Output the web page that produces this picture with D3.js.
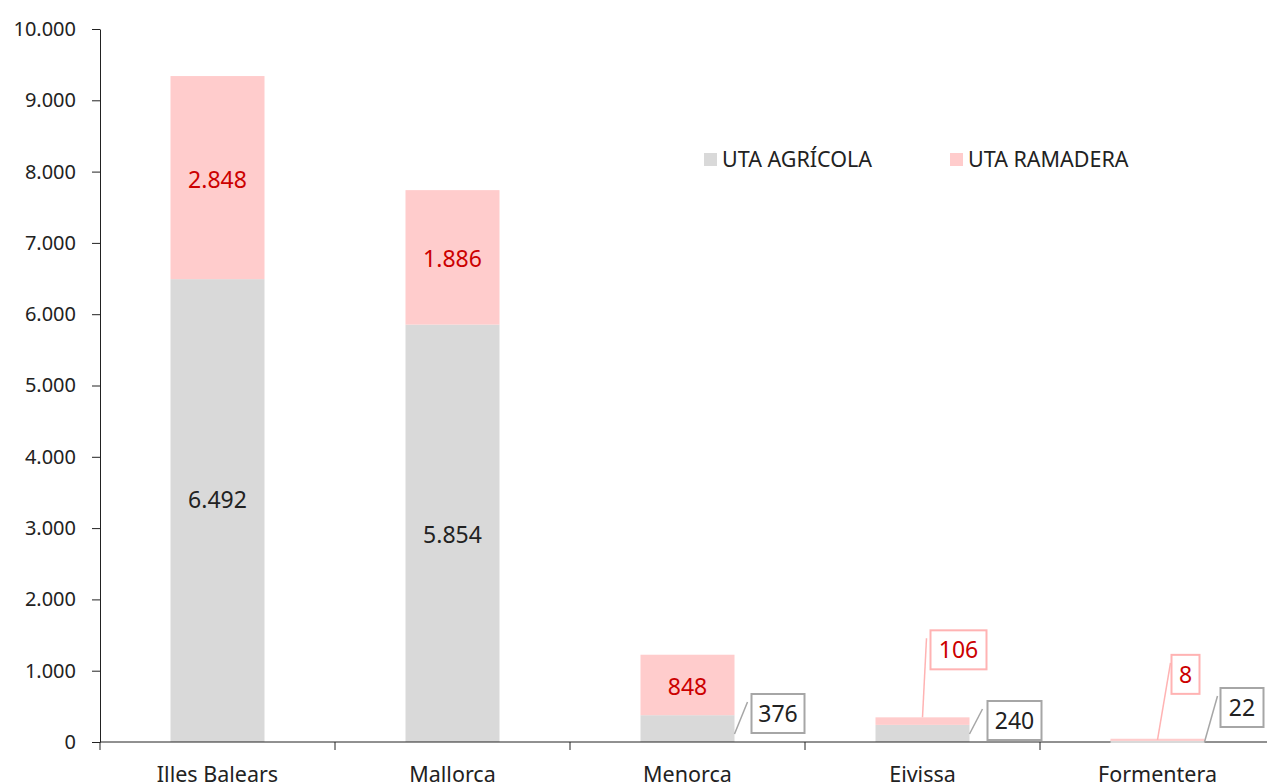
<!DOCTYPE html>
<html>
<head>
<meta charset="utf-8">
<script src="https://cdn.jsdelivr.net/npm/d3@7"></script>
<style>
  body { margin: 0; background: #fff; }
  svg text { font-family: "Noto Sans", "Open Sans", sans-serif; }
</style>
</head>
<body>
<div id="chart"></div>
<script>
// data
var islands = ["Illes Balears", "Mallorca", "Menorca", "Eivissa", "Formentera"];
var utaAgricola = [6492, 5854, 376, 240, 22];
var utaRamadera = [2848, 1886, 848, 106, 8];
var yTicks = [0, 1000, 2000, 3000, 4000, 5000, 6000, 7000, 8000, 9000, 10000];

var width = 1267, height = 784;
var margin = {top: 29, right: -8, bottom: 42, left: 100};

var grey = "#d9d9d9", pink = "#ffcccc", red = "#cc0000";

var locale = d3.formatLocale({decimal: ",", thousands: ".", grouping: [3], currency: ["", "€"]});
var fmt = locale.format(",d");

var svg = d3.select("#chart").append("svg")
  .attr("width", width)
  .attr("height", height);

var xScale = d3.scaleBand()
  .domain(islands)
  .range([margin.left, width - margin.right])
  .paddingInner(0.6)
  .paddingOuter(0.3);

var yScale = d3.scaleLinear()
  .domain([0, 10000])
  .range([height - margin.bottom, margin.top]);

// bars
var stack = d3.stack().keys(["agri", "ram"]);
var rows = islands.map((d, i) => ({name: d, agri: utaAgricola[i], ram: utaRamadera[i]}));
var series = stack(rows);
var colors = [grey, pink];

svg.append("g").selectAll("g")
  .data(series)
  .enter().append("g")
  .attr("fill", (d, i) => colors[i])
  .selectAll("rect")
  .data(d => d)
  .enter().append("rect")
  .attr("x", d => xScale(d.data.name))
  .attr("width", xScale.bandwidth())
  .attr("y", d => yScale(d[1]))
  .attr("height", d => yScale(d[0]) - yScale(d[1]));

// Y axis
var yAxis = d3.axisLeft(yScale)
  .tickValues(yTicks)
  .tickSize(8)
  .tickSizeOuter(0)
  .tickPadding(16)
  .tickFormat(d => fmt(d));

var yG = svg.append("g")
  .attr("transform", `translate(${margin.left},0)`)
  .call(yAxis);
yG.selectAll("text").style("font-size", "20px").style("fill", "#222");
yG.selectAll("line, path").attr("stroke", "#222");

// X axis
var xG = svg.append("g")
  .attr("transform", `translate(0,${height - margin.bottom})`);
xG.append("line")
  .attr("x1", margin.left).attr("x2", width)
  .attr("stroke", "#222");
xG.selectAll(".xt")
  .data(islands)
  .enter().append("line")
  .attr("class", "xt")
  .attr("x1", (d, i) => margin.left + i * (width - margin.left - margin.right) / islands.length)
  .attr("x2", (d, i) => margin.left + i * (width - margin.left - margin.right) / islands.length)
  .attr("y1", 0).attr("y2", 8)
  .attr("stroke", "#222");
xG.selectAll(".xl")
  .data(islands)
  .enter().append("text")
  .attr("class", "xl")
  .attr("x", d => xScale(d) + xScale.bandwidth() / 2)
  .attr("y", 40)
  .attr("text-anchor", "middle")
  .style("font-size", "21.5px")
  .style("fill", "#222")
  .text(d => d);

// labels inside bars (null = no inner label), value = vertical nudge
var inside = [[-11, 2], [2, 2], [null, 2], [null, null], [null, null]];
series.forEach((s, k) => {
  s.forEach((d, i) => {
    if (inside[i][k] === null) return;
    svg.append("text")
      .attr("x", xScale(d.data.name) + xScale.bandwidth() / 2)
      .attr("y", (yScale(d[0]) + yScale(d[1])) / 2 + 8 + inside[i][k])
      .attr("text-anchor", "middle")
      .style("font-size", "23px")
      .style("fill", k === 0 ? "#222" : red)
      .text(fmt(d[1] - d[0]));
  });
});

// callouts for small segments
var callouts = [
  {i: 2, k: 0, ax: 1, ay: -8, lx: 13, ly: -32, bx: 17, bw: 53},
  {i: 3, k: 0, ax: 1, ay: -8, lx: 13, ly: -25, bx: 18, bw: 54},
  {i: 3, k: 1, ax: 0.5, ay: 0, lx: 4, ly: -79, bx: 8, bw: 56},
  {i: 4, k: 1, ax: 0.5, ay: 0, lx: 13, ly: -77, bx: 14, bw: 28},
  {i: 4, k: 0, ax: 1, ay: 0, lx: 13, ly: -46, bx: 16, bw: 43}
];
callouts.forEach(c => {
  var d = series[c.k][c.i];
  var bx0 = xScale(d.data.name);
  var x0 = bx0 + xScale.bandwidth() * c.ax;
  var y0 = c.ax === 1 ? yScale(0) + c.ay : yScale(d[1]);
  var col = c.k === 0 ? "#a6a6a6" : "#ffb3b3";
  var g = svg.append("g");
  if (c.i === 4) {
    g.append("line")
      .attr("x1", bx0).attr("x2", bx0 + xScale.bandwidth())
      .attr("y1", y0).attr("y2", y0)
      .attr("stroke", c.k === 0 ? grey : pink).attr("stroke-width", 2);
  }
  g.append("line")
    .attr("x1", x0).attr("y1", y0)
    .attr("x2", x0 + c.lx).attr("y2", y0 + c.ly)
    .attr("stroke", col).attr("stroke-width", 1.5);
  var boxTop = y0 + c.ly - 8;
  g.append("rect")
    .attr("x", x0 + c.bx).attr("y", boxTop)
    .attr("width", c.bw).attr("height", 39)
    .attr("fill", "#fff")
    .attr("stroke", col).attr("stroke-width", 2);
  g.append("text")
    .attr("x", x0 + c.bx + c.bw / 2)
    .attr("y", boxTop + 28)
    .attr("text-anchor", "middle")
    .style("font-size", "23px")
    .style("fill", c.k === 0 ? "#222" : red)
    .text(fmt(d[1] - d[0]));
});

// legend
var legend = [["UTA AGRÍCOLA", grey, 704], ["UTA RAMADERA", pink, 950]];
legend.forEach(l => {
  svg.append("rect")
    .attr("x", l[2]).attr("y", 153)
    .attr("width", 13).attr("height", 13)
    .attr("fill", l[1]);
  svg.append("text")
    .attr("x", l[2] + 18).attr("y", 167)
    .style("font-size", "21.5px")
    .style("fill", "#222")
    .text(l[0]);
});
</script>
</body>
</html>
